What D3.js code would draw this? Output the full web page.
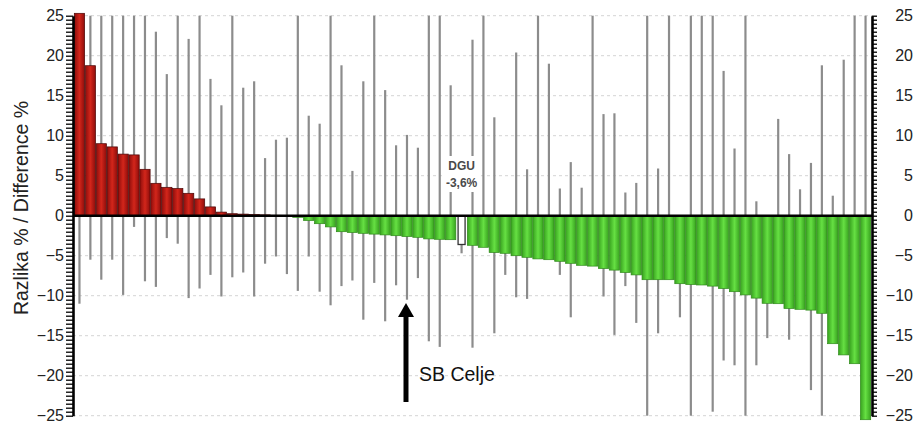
<!DOCTYPE html>
<html>
<head>
<meta charset="utf-8">
<script src="https://cdn.jsdelivr.net/npm/d3@7"></script>
<style>
  html, body { margin: 0; padding: 0; background: #fff; }
  svg { display: block; font-family: "Liberation Sans", Arial, Helvetica, sans-serif; }
</style>
</head>
<body>
<div id="chart"></div>
<script>
// Difference % per hospital, sorted (DGU = national average)
const values = [
  25.3, 18.75, 9.0, 8.6, 7.7, 7.6, 5.8, 4.05, 3.55, 3.4,
  2.8, 2.1, 1.1, 0.45, 0.25, 0.2, 0.15, 0.1, 0.05, -0.05,
  -0.2, -0.6, -1.0, -1.4, -2.0, -2.1, -2.2, -2.3, -2.4, -2.5,
  -2.6, -2.7, -2.9, -2.95, -3.0, -3.6, -3.7, -3.95, -4.6, -4.7,
  -5.0, -5.2, -5.4, -5.5, -5.7, -5.95, -6.2, -6.3, -6.6, -6.8,
  -7.1, -7.4, -8.0, -8.0, -8.0, -8.5, -8.6, -8.66, -8.8, -9.1,
  -9.5, -9.9, -10.3, -10.95, -11.0, -11.6, -11.7, -11.8, -12.2, -16.0,
  -17.4, -18.5, -25.5
];

// upper / lower ends of the interval lines
const upper = [
  25, 25, 25, 25, 25, 25, 25, 23.0, 17.7, 25,
  22.1, 25, 17.1, 13.8, 25, 16.0, 16.8, 7.2, 9.5, 9.75,
  25, 12.5, 11.5, 25, 18.8, 5.6, 16.8, 25, 15.7, 8.8,
  10.1, 8.5, 25, 25, 16.3, 0, 22.0, 25, 12.3, 0,
  20.4, 5.8, 25, 19.0, 3.4, 6.7, 3.5, 25, 12.7, 12.8,
  2.9, 4.1, 25, 5.9, 25, 0, 25, 25, 25, 18.1,
  8.4, 25, 1.8, 0, 12.1, 7.7, 3.3, 6.6, 18.8, 2.5,
  19.5, 25, 25
];
const lower = [
  -11, -5.5, -8.0, -5.5, -9.9, -1.4, -8.2, -8.9, -2.8, -3.5,
  -10.3, -9.1, -7.4, -10.1, -7.7, -7.1, -10.1, -6.0, -5.1, -7.3,
  -9.4, -5.1, -9.5, -11.2, -8.8, -8.1, -13.0, -8.4, -13.2, -8.7,
  -10.5, -7.8, -15.7, -16.4, -2.5, -4.7, -16.5, -3.0, -14.7, -7.4,
  -10.2, -10.4, -4.0, -4.5, -7.4, -12.7, -5.0, -5.0, -10.1, -14.9,
  -8.8, -13.4, -25, -14.7, -6.0, -12.7, -25, -6.0, -24.5, -18.1,
  -18.7, -25, -18.7, -15.3, -8.0, -15.5, -8.0, -21.8, -25, -10,
  -12, -12, -20
];

const dguIndex = 35;
const celjeIndex = 30;
const dguLabel = ["DGU", "-3,6%"];
const celjeLabel = "SB Celje";
const yTicks = d3.range(-25, 26, 5);
const yTitle = "Razlika % / Difference %";

const W = 916, H = 427;
const left = 73, right = 872;

const svg = d3.select("#chart").append("svg")
  .attr("width", W).attr("height", H);

const defs = svg.append("defs");
function grad(id, edge, mid) {
  const g = defs.append("linearGradient").attr("id", id)
    .attr("x1", "0%").attr("x2", "100%").attr("y1", "0%").attr("y2", "0%");
  g.append("stop").attr("offset", "0%").attr("stop-color", edge);
  g.append("stop").attr("offset", "50%").attr("stop-color", mid);
  g.append("stop").attr("offset", "100%").attr("stop-color", edge);
}
grad("gRed", "#8e0d0b", "#d3261b");
grad("gGreen", "#38a31f", "#66e043");

const x = d3.scaleBand()
  .domain(d3.range(values.length))
  .range([74, 871])
  .padding(0);

const y = d3.scaleLinear().domain([-25, 25]).range([415.7, 15.7]);

// grid
svg.append("g")
  .selectAll("line")
  .data(yTicks.filter(d => d !== 0))
  .join("line")
  .attr("x1", left).attr("x2", right)
  .attr("y1", d => y(d)).attr("y2", d => y(d))
  .attr("stroke", "#d4d4d4")
  .attr("stroke-width", 1)
  .attr("stroke-dasharray", "3,3");

// interval lines (behind bars)
const cx = i => x(i) + x.bandwidth() / 2;
const err = svg.append("g");
err.selectAll("line.up")
  .data(d3.range(values.length).filter(i => upper[i] > 0))
  .join("line")
  .attr("x1", cx).attr("x2", cx)
  .attr("y1", y(0)).attr("y2", i => y(upper[i]))
  .attr("stroke", "#8c8c8c")
  .attr("stroke-width", 2.2);
err.selectAll("line.down")
  .data(d3.range(values.length))
  .join("line")
  .attr("x1", cx).attr("x2", cx)
  .attr("y1", y(0)).attr("y2", i => y(lower[i]))
  .attr("stroke", "#8c8c8c")
  .attr("stroke-width", 2.2);

// bars
svg.append("g")
  .selectAll("rect")
  .data(values.map((v, i) => ({ v, i })).filter(d => d.i !== dguIndex))
  .join("rect")
  .attr("x", d => x(d.i) + 0.3)
  .attr("width", x.bandwidth() - 0.6)
  .attr("y", d => y(Math.max(0, d.v)))
  .attr("height", d => Math.abs(y(d.v) - y(0)))
  .attr("fill", d => d.v >= 0 ? "url(#gRed)" : "url(#gGreen)")
  .attr("stroke", d => d.v >= 0 ? "#4a0605" : "#2f8a1a")
  .attr("stroke-width", 0.7);

// DGU bar
svg.append("rect")
  .attr("x", cx(dguIndex) - 3.5)
  .attr("width", 7)
  .attr("y", y(0))
  .attr("height", y(values[dguIndex]) - y(0))
  .attr("fill", "#fff")
  .attr("stroke", "#333")
  .attr("stroke-width", 1.3);

// zero line
svg.append("line")
  .attr("x1", left).attr("x2", right)
  .attr("y1", y(0)).attr("y2", y(0))
  .attr("stroke", "#000")
  .attr("stroke-width", 2.6);

// axes
const fmt = d => (Math.abs(d % 5) < 1e-9) ? (d < 0 ? "\u2212" + Math.abs(d) : String(d)) : "";
const minor = d3.range(-25, 25.01, 0.5);

const gl = svg.append("g").attr("transform", `translate(${left},0)`)
  .call(d3.axisLeft(y).tickValues(minor).tickFormat(fmt).tickSize(7).tickPadding(2).tickSizeOuter(0));
const gr = svg.append("g").attr("transform", `translate(${right},0)`)
  .call(d3.axisRight(y).tickValues(minor).tickFormat(fmt).tickSize(5).tickPadding(2).tickSizeOuter(0));

[gl, gr].forEach(g => {
  g.select(".domain").attr("stroke", "#000").attr("stroke-width", 2.6);
  g.selectAll(".tick line").attr("stroke", "#000").attr("stroke-width", 1.3);
  g.selectAll(".tick text")
    .attr("font-size", 16)
    .attr("fill", "#222")
    .attr("font-family", "'Liberation Sans', Arial, sans-serif");
});
gr.selectAll(".tick text").attr("text-anchor", "end").attr("x", 41);

// y title
svg.append("text")
  .attr("transform", `translate(28,208) rotate(-90)`)
  .attr("text-anchor", "middle")
  .attr("font-size", 19.5)
  .attr("fill", "#222")
  .text(yTitle);

// DGU label
const lg = svg.append("g");
lg.append("rect")
  .attr("x", cx(dguIndex) - 17).attr("y", 156)
  .attr("width", 34).attr("height", 36)
  .attr("fill", "#fff");
lg.selectAll("text")
  .data(dguLabel)
  .join("text")
  .attr("x", cx(dguIndex))
  .attr("y", (d, k) => 170 + k * 17)
  .attr("text-anchor", "middle")
  .attr("font-size", 12)
  .attr("font-weight", "bold")
  .attr("fill", "#4a4a4a")
  .text(d => d);

// SB Celje arrow
const ax = cx(celjeIndex) - 1;
svg.append("line")
  .attr("x1", ax).attr("x2", ax)
  .attr("y1", 402).attr("y2", 314)
  .attr("stroke", "#000")
  .attr("stroke-width", 5);
svg.append("path")
  .attr("d", `M${ax},303 L${ax - 8},317 L${ax + 8},317 Z`)
  .attr("fill", "#000");
svg.append("text")
  .attr("x", 419).attr("y", 381)
  .attr("font-size", 19.5)
  .attr("fill", "#111")
  .text(celjeLabel);
</script>
</body>
</html>
